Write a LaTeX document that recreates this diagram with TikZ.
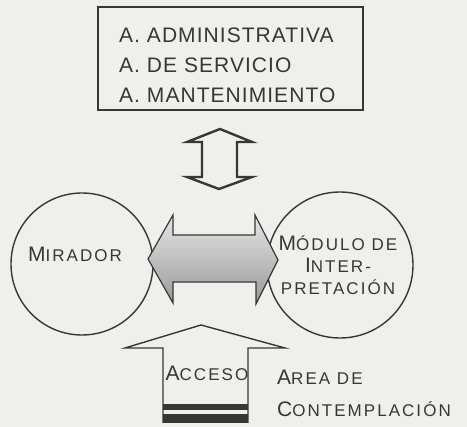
\documentclass[tikz,border=0pt]{standalone}
\usepackage{fontspec}
\setmainfont{Liberation Sans}
\newfontfamily\rotulofont[LetterSpace=12]{Liberation Sans}
\newfontfamily\listafont[LetterSpace=5]{Liberation Sans}
\usetikzlibrary{positioning}
\definecolor{papel}{RGB}{239,239,235}
\definecolor{tinta}{RGB}{55,55,55}
\newcommand{\inicial}[2]{{\fontsize{21}{21}\selectfont #1}{\fontsize{17}{17}\selectfont #2}}

\begin{document}
\begin{tikzpicture}[x=1pt, y=-1pt,
  % Node Styles
  zona/.style={circle, draw=tinta, line width=1.4pt, minimum size=142pt, inner sep=0pt},
  listbox/.style={rectangle, draw=tinta, line width=1.8pt, minimum width=265pt, minimum height=103pt},
  listtext/.style={text=tinta, inner sep=0pt, align=left, font=\listafont\fontsize{21}{30}\selectfont},
  rotulo/.style={text=tinta, inner sep=0pt, align=left, font=\rotulofont},
  % Arrow Styles
  huecoarrow/.style={draw=tinta, line width=2.4pt, fill=papel, line join=miter},
  flujoarrow/.style={draw=tinta, line width=1.2pt, top color=gray!20, bottom color=gray!80},
]
\fill[papel] (0,0) rectangle (467,427);
\useasboundingbox (0,0) rectangle (467,427);

% Areas de servicio
\node[listbox] (usos) at (230.5,58.5) {};
\node[listtext, anchor=north west] (usostxt) at (119,28) {A. ADMINISTRATIVA\\A. DE SERVICIO\\A. MANTENIMIENTO};

% Zonas
\node[zona] (mirador) at (82,264) {};
\node[rotulo] (miradortxt) at (75,254) {\inicial{M}{IRADOR}};
\node[zona, minimum size=146pt] (modulo) at (340,265) {};
\node[rotulo, align=center, font=\rotulofont\fontsize{17}{22}\selectfont] (modulotxt) at (338,265) {\inicial{M}{ÓDULO DE}\\\inicial{I}{NTER-}\\PRETACIÓN};

% Flechas
\draw[huecoarrow] (220,129) -- (252,142) -- (237,142) -- (237,177) -- (252,177) -- (219,189)
  -- (187,177) -- (202,177) -- (202,142) -- (187,142) -- cycle;
\draw[flujoarrow] (148,259) -- (173,215) -- (173,235) -- (255,235) -- (255,215) -- (278,260)
  -- (256,304) -- (256,282) -- (173,282) -- (173,303) -- cycle;
\draw[draw=tinta, line width=1.4pt, line join=miter] (163,423) -- (163,348) -- (125,348) -- (201,325)
  -- (285,348) -- (248,348) -- (248,423);
\fill[tinta] (163,404) rectangle (248,410);
\fill[tinta] (163,414) rectangle (248,423);

% Rotulos
\node[rotulo] (acceso) at (207,373) {\inicial{A}{CCESO}};
\node[rotulo, anchor=west, font=\rotulofont\fontsize{17}{32}\selectfont] (contemplacion) at (277,393) {\inicial{A}{REA DE}\\\inicial{C}{ONTEMPLACIÓN}};

\end{tikzpicture}
\end{document}
